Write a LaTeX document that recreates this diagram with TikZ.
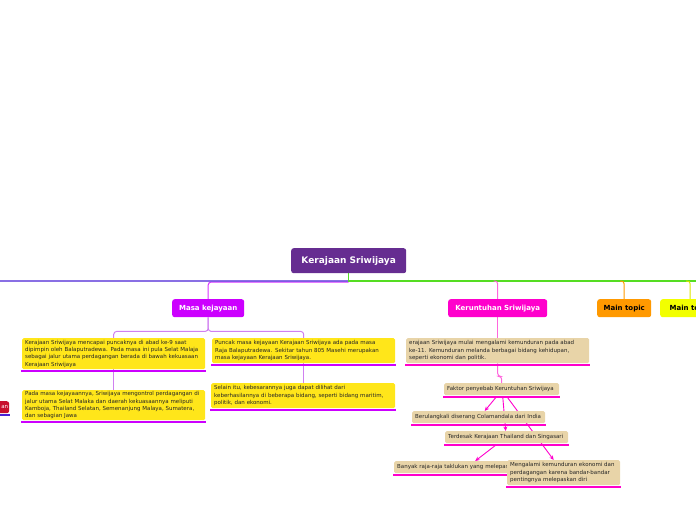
\documentclass[tikz,border=0pt]{standalone}
\usepackage{fontspec}
\setmainfont{DejaVu Sans}
\usetikzlibrary{positioning,calc,arrows.meta}
\definecolor{kpurple}{HTML}{662D91}
\definecolor{kviolet}{HTML}{CC00FF}
\definecolor{klilac}{HTML}{D080F0}
\definecolor{kmagenta}{HTML}{FF00CC}
\definecolor{kpink}{HTML}{FF66DD}
\definecolor{kyellow}{HTML}{FFE61A}
\definecolor{ktan}{HTML}{E8D4A8}
\definecolor{kgreen}{HTML}{55DD22}
\definecolor{kblue}{HTML}{4A22D6}
\definecolor{korange}{HTML}{FF9900}
\definecolor{klemon}{HTML}{F2FF00}
\definecolor{kred}{HTML}{C8102E}
\definecolor{ktext}{HTML}{262626}
\pgfdeclarelayer{bg}
\pgfsetlayers{bg,main}
\def\uline#1#2{\draw[line width=2.6pt,#2] ($(#1.south west)+(-1,1.6)$) -- ($(#1.south east)+(1,1.6)$);}

\begin{document}
\begin{tikzpicture}[x=1pt,y=-1pt,
	topic/.style={rounded corners=2.5pt, anchor=north west, inner sep=0pt, align=center, text=white, font=\fontsize{7}{8}\selectfont\bfseries},
	note/.style={rounded corners=1.5pt, anchor=north west, inner xsep=3pt, inner ysep=0pt, align=left, text=ktext, font=\fontsize{5.5}{7.3}\selectfont},
	link/.style={line width=1pt, rounded corners=3pt},
	arr/.style={line width=0.9pt, kmagenta, -{Stealth[length=4.5pt,width=4pt]}}]
			\useasboundingbox (0,0) rectangle (696,520);
			\clip (0,0) rectangle (696,520);
% 			main topics
			\node[topic, fill=kpurple, minimum width=115pt, minimum height=25pt, font=\fontsize{9}{10}\selectfont\bfseries] (kS) at (291,248) {Kerajaan Sriwijaya};
			\node[topic, fill=kviolet, minimum width=72pt, minimum height=18pt] (kM) at (172,299) {Masa kejayaan};
			\node[topic, fill=kmagenta, minimum width=99pt, minimum height=18pt] (kK) at (448,299) {Keruntuhan Sriwijaya};
			\node[topic, fill=korange, text=black, minimum width=54pt, minimum height=18pt] (kT1) at (597,299) {Main topic};
			\node[topic, fill=klemon, text=black, minimum width=60pt, minimum height=18pt] (kT2) at (660,299) {Main topic};
			\node[topic, fill=kred, minimum width=30pt, minimum height=12pt, text width=28pt, align=right, font=\fontsize{5.5}{6}\selectfont] (kL) at (-21,401) {an};
			\uline{kL}{kblue}
			\coordinate (kR) at (720,281);

			\node[note, fill=kyellow, text width=177pt, minimum height=31pt] (kA) at (22,338) {Kerajaan Sriwijaya mencapai puncaknya di abad ke-9 saat\\dipimpin oleh Balaputradewa. Pada masa ini pula Selat Malaja\\sebagai jalur utama perdagangan berada di bawah kekuasaan\\Kerajaan Sriwijaya};
			\node[note, fill=kyellow, text width=177pt, minimum height=30pt] (kB) at (22,390) {Pada masa kejayaannya, Sriwijaya mengontrol perdagangan di\\jalur utama Selat Malaka dan daerah kekuasaannya meliputi\\Kamboja, Thailand Selatan, Semenanjung Malaya, Sumatera,\\dan sebagian Jawa};
			\node[note, fill=kyellow, text width=177pt, minimum height=25pt] (kC) at (212,338) {Puncak masa kejayaan Kerajaan Sriwijaya ada pada masa\\Raja Balaputradewa. Sekitar tahun 805 Masehi merupakan\\masa kejayaan Kerajaan Sriwijaya.};
			\node[note, fill=kyellow, text width=178pt, minimum height=25pt] (kD) at (211,383) {Selain itu, kebesarannya juga dapat dilihat dari\\keberhasilannya di beberapa bidang, seperti bidang maritim,\\politik, dan ekonomi.};
			\foreach \n in {kA,kB,kC,kD} {\uline{\n}{kviolet}}

			\node[note, fill=ktan, text width=177pt, minimum height=25pt] (kE) at (406,338) {erajaan Sriwijaya mulai mengalami kemunduran pada abad\\ke-11. Kemunduran melanda berbagai bidang kehidupan,\\seperti ekonomi dan politik.};
			\node[note, fill=ktan, text width=109pt, minimum height=12pt] (kF) at (444,383) {Faktor penyebab Keruntuhan Sriwijaya};
			\node[note, fill=ktan, text width=127pt, minimum height=12pt] (kG) at (412,411) {Berulangkali diserang Colamandala dari India};
			\node[note, fill=ktan, text width=117pt, minimum height=12pt] (kH) at (445,431) {Terdesak Kerajaan Thailand dan Singasari};
			\node[note, fill=ktan, text width=114pt, minimum height=12pt] (kI) at (394,461) {Banyak raja-raja taklukan yang melepas};
			\uline{kI}{kmagenta}
			\node[note, fill=ktan, text width=107pt, minimum height=25pt] (kJ) at (507,460) {Mengalami kemunduran ekonomi dan\\perdagangan karena bandar-bandar\\pentingnya melepaskan diri};
			\foreach \n in {kE,kF,kG,kH,kJ} {\uline{\n}{kmagenta}}

			\begin{pgfonlayer}{bg}
			\draw[link, kviolet!80] (kS.south |- 0,282) -| (kM.north);
			\draw[link, kblue, line width=1.3pt] (kS.south |- 0,281) -- (-40,281) |- (kL.west);
			\draw[kgreen, line width=1.3pt] (kS.south) -- (kS.south |- 0,281) -- (kR);
			\draw[link, kpink] ($(kK.north |- 0,281)+(-4,0)$) -| (kK.north);
			\draw[link, korange] ($(kT1.north |- 0,281)+(-4,0)$) -| (kT1.north);
			\draw[link, klemon!90!black] ($(kT2.north |- 0,281)+(-4,0)$) -| (kT2.north);

			\draw[link, klilac] (kM.south) -- ++(0,14) -| (kA.north);
			\draw[link, klilac] (kM.south) -- ++(0,14) -| (kC.north);
			\draw[link, klilac] (kA.south) -- (kB.north);
			\draw[link, klilac] (kC.south) -- (kC.south |- kD.north);

			\draw[link, kpink] (kK.south) -- (kK.south |- kE.north);
			\draw[link, kpink] (kK.south |- kE.south) -- ++(0,13) -| (kF.north);
			\draw[arr] ($(kF.south)+(-5,1)$) -- ($(kG.north)+(6,0)$);
			\draw[arr] ($(kF.south)+(1,1)$) -- ($(kH.north)+(-1,0)$);
			\draw[arr] ($(kF.south)+(5,1)$) -- ($(kJ.north)+(-10,0)$);
			\draw[arr] ($(kH.south)+(-10,1)$) -- ($(kI.north)+(21,0)$);
			\end{pgfonlayer}
\end{tikzpicture}
\end{document}
